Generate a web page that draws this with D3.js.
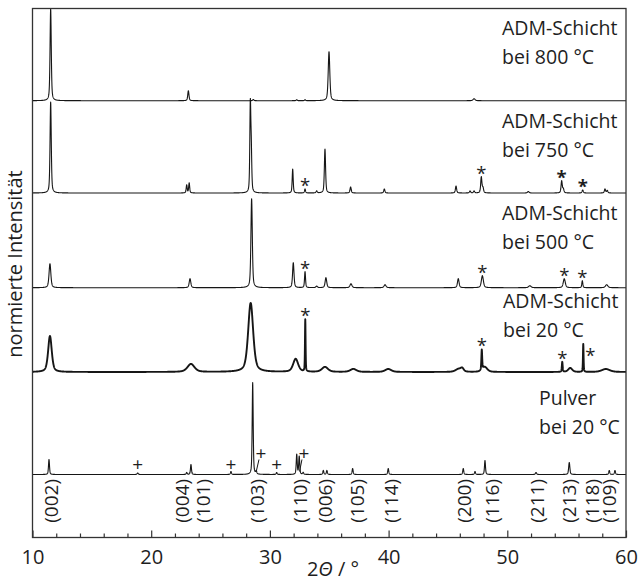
<!DOCTYPE html>
<html>
<head>
<meta charset="utf-8">
<script src="https://cdn.jsdelivr.net/npm/d3@7"></script>
<style>
  body { margin: 0; background: #fff; }
  svg text { font-family: "Open Sans", "Noto Sans", sans-serif; fill: #1e1e1e; }
</style>
</head>
<body>
<div id="chart"></div>
<script>
// peak lists: [2theta, height, half width] (height in px-like units)
const peaks800 = [
    [11.53, 92, 0.06], [23.13, 10, 0.06], [28.6, 1.2, 0.06], [32.26, 1, 0.05],
    [32.96, 1, 0.05], [34.98, 49, 0.08], [47.2, 2, 0.1]
];
const peaks750 = [
    [11.53, 91, 0.06], [22.99, 8, 0.05], [23.2, 10, 0.05], [28.35, 86, 0.05], [28.43, 38, 0.05],
    [31.92, 24, 0.05], [32.96, 4, 0.05], [33.94, 2, 0.06], [34.64, 44, 0.06], [36.8, 6, 0.06],
    [39.64, 4, 0.06], [45.68, 7, 0.06], [46.86, 2, 0.06], [47.2, 2, 0.06], [47.81, 16, 0.06],
    [47.95, 5, 0.06], [51.77, 1.5, 0.08], [54.58, 12, 0.06], [54.72, 4, 0.06], [56.35, 3, 0.06],
    [58.23, 4, 0.06], [58.42, 2.5, 0.06]
];
const peaks500 = [
    [11.47, 24, 0.09], [23.27, 9, 0.08], [28.46, 89, 0.07], [31.97, 25, 0.07], [32.96, 16, 0.05],
    [33.94, 1.5, 0.08], [34.72, 10, 0.08], [36.83, 4, 0.1], [39.7, 3, 0.1], [45.87, 9, 0.08],
    [47.9, 12, 0.1], [51.9, 2, 0.12], [54.8, 9, 0.1], [56.32, 7, 0.05], [58.37, 3, 0.12]
];
const peaksFilm20 = [
    [11.47, 36, 0.18], [23.35, 8, 0.35], [28.38, 69, 0.25], [32.17, 13, 0.25], [32.98, 52, 0.03],
    [34.64, 5, 0.3], [37.03, 3, 0.3], [39.97, 3, 0.3], [45.9, 3, 0.3], [46.2, 3, 0.15],
    [47.85, 20, 0.04], [48.1, 5, 0.25], [54.63, 10, 0.04], [55.3, 4, 0.2], [56.4, 28, 0.03],
    [58.3, 3, 0.4]
];
const peaksPowder = [
    [11.39, 15, 0.05], [18.86, 1.5, 0.06], [22.99, 2, 0.05], [23.35, 10, 0.05], [26.72, 3, 0.05],
    [28.55, 92, 0.05], [28.85, 3, 0.05], [30.57, 2, 0.05], [32.26, 20, 0.05], [32.47, 18, 0.05],
    [32.8, 2, 0.05], [34.5, 4, 0.05], [34.8, 4, 0.05], [36.97, 6, 0.05], [39.97, 6, 0.05],
    [46.29, 6, 0.05], [47.28, 3, 0.05], [48.12, 14, 0.05], [52.42, 2, 0.06], [55.22, 12, 0.06],
    [58.59, 4, 0.05], [59.07, 4, 0.05]
];

const sampleNames = [
    ["ADM-Schicht", "bei 800 °C"],
    ["ADM-Schicht", "bei 750 °C"],
    ["ADM-Schicht", "bei 500 °C"],
    ["ADM-Schicht", "bei 20 °C"],
    ["Pulver", "bei 20 °C"]
];

// marked reflections (*) per spectrum, + for the powder
const stars750 = [32.96, 47.81, 54.58, 56.35];
const stars500 = [32.96, 47.9, 54.8, 56.32];
const starsFilm20 = [32.98, 47.85, 54.63, 56.4];
const plusPowder = [18.86, 26.72, 30.57];
const plusLeaders = [[29.25, 28.85], [32.87, 32.5]];

const hklLabels = ["(002)", "(004)", "(101)", "(103)", "(110)", "(006)", "(105)", "(114)",
    "(200)", "(116)", "(211)", "(213)", "(118)", "(109)"];
const hklPos = [11.6, 22.57, 24.39, 28.88, 32.53, 34.64, 37.31, 40.2, 46.35, 48.69, 52.48,
    55.22, 57.11, 58.59];

const xMajor = [10, 20, 30, 40, 50, 60];
const xMinor = [12, 14, 16, 18, 22, 24, 26, 28, 32, 34, 36, 38, 42, 44, 46, 48, 52, 54, 56, 58];

const W = 639, H = 581;
const margin = { left: 32.5, right: 13, top: 8.5, bottom: 43.5 };

const svg = d3.select("#chart").append("svg")
    .attr("width", W)
    .attr("height", H);

const x = d3.scaleLinear().domain([10, 60]).range([margin.left, W - margin.right]);
const y = d3.scaleLinear().domain([0, 529]).range([H - margin.bottom, margin.top]);

// stacking offsets of each spectrum (same order as sampleNames)
const series = [
    { peaks: peaks800, offset: 436.8, sw: 1.1 },
    { peaks: peaks750, offset: 344.5, sw: 1.1 },
    { peaks: peaks500, offset: 249.8, sw: 1.1 },
    { peaks: peaksFilm20, offset: 165.5, sw: 1.9 },
    { peaks: peaksPowder, offset: 63, sw: 1.1 }
];

function profile(peaks, t) {
    let s = 0;
    for (const [c, h, w] of peaks) {
        const u = (t - c) / w, u2 = u * u;
        if (u2 > 4000) continue;
        s += h * (0.5 / (1 + u2) + 0.5 * Math.exp(-0.6931 * u2));
    }
    return s;
}

const grid = d3.range(10, 60.0001, 0.01);

svg.append("clipPath").attr("id", "plot-clip")
    .append("rect")
    .attr("x", x(10)).attr("y", y(529))
    .attr("width", x(60) - x(10)).attr("height", y(0) - y(529));

const line = d3.line().x(d => x(d[0])).y(d => y(d[1]));

const g = svg.append("g").attr("clip-path", "url(#plot-clip)");

series.forEach(s => {
    const pts = grid.map(t => [t, s.offset + profile(s.peaks, t)]);
    g.append("path")
        .datum(pts)
        .attr("d", line)
        .attr("fill", "none")
        .attr("stroke", "#161616")
        .attr("stroke-width", s.sw)
        .attr("stroke-linejoin", "round");
});

// sample names
const namePos = [[502, 35], [502, 128], [502, 220], [503, 308], [539, 405]];
sampleNames.forEach((lines, i) => {
    lines.forEach((txt, j) => {
        svg.append("text")
            .attr("x", namePos[i][0])
            .attr("y", namePos[i][1] + j * 29)
            .attr("font-size", 19.5)
            .text(txt);
    });
});

// asterisks
function drawStars(list, s, sideIdx, boldIdx) {
    list.forEach((p, i) => {
        const top = y(s.offset + profile(s.peaks, p));
        const side = (i === sideIdx);
        svg.append("text")
            .attr("x", x(p) + (side ? 7 : 0))
            .attr("y", (side ? top + 8 : top - 7) + 10)
            .attr("text-anchor", "middle")
            .attr("font-size", 18.5)
            .attr("font-weight", boldIdx.includes(i) ? "bold" : null)
            .text("*");
    });
}
drawStars(stars750, series[1], -1, [2, 3]);
drawStars(stars500, series[2], -1, []);
drawStars(starsFilm20, series[3], 3, []);

// + markers of the powder pattern
const sp = series[4];
plusPowder.forEach(p => {
    svg.append("text")
        .attr("x", x(p))
        .attr("y", y(sp.offset) - 10 + 6)
        .attr("text-anchor", "middle")
        .attr("font-size", 19)
        .text("+");
});
plusLeaders.forEach(([p, target]) => {
    const cy = y(sp.offset) - 21;
    svg.append("text")
        .attr("x", x(p))
        .attr("y", cy + 6)
        .attr("text-anchor", "middle")
        .attr("font-size", 19)
        .text("+");
    svg.append("line")
        .attr("x1", x(p) - 2).attr("y1", cy + 6)
        .attr("x2", x(target)).attr("y2", y(sp.offset) - 3)
        .attr("stroke", "#161616")
        .attr("stroke-width", 1);
});

// hkl labels
hklLabels.forEach((lab, i) => {
    const px = x(hklPos[i]);
    svg.append("text")
        .attr("transform", `translate(${px},479) rotate(-90)`)
        .attr("text-anchor", "end")
        .attr("dominant-baseline", "central")
        .attr("font-size", 19)
        .text(lab);
});

// axes
const axisMajor = svg.append("g")
    .attr("transform", `translate(0,${y(0)})`)
    .call(d3.axisBottom(x).tickValues(xMajor).tickSizeInner(-7).tickSizeOuter(0).tickPadding(12));
axisMajor.select(".domain").remove();
axisMajor.selectAll("text").attr("font-size", 20).attr("font-family", null);
axisMajor.selectAll("line").attr("stroke", "#333").attr("stroke-width", 1.2);

const axisMinor = svg.append("g")
    .attr("transform", `translate(0,${y(0)})`)
    .call(d3.axisBottom(x).tickValues(xMinor).tickSizeInner(-4).tickSizeOuter(0).tickFormat(""));
axisMinor.select(".domain").remove();
axisMinor.selectAll("line").attr("stroke", "#333").attr("stroke-width", 1.2);

// frame
svg.append("rect")
    .attr("x", x(10)).attr("y", y(529))
    .attr("width", x(60) - x(10)).attr("height", y(0) - y(529))
    .attr("fill", "none")
    .attr("stroke", "#333")
    .attr("stroke-width", 1.3);

// axis titles
const xt = svg.append("text")
    .attr("x", 333)
    .attr("y", 576)
    .attr("text-anchor", "middle")
    .attr("font-size", 20);
xt.append("tspan").text("2");
xt.append("tspan").attr("font-style", "italic").text("Θ");
xt.append("tspan").text(" / °");

svg.append("text")
    .attr("transform", "translate(22,264) rotate(-90)")
    .attr("text-anchor", "middle")
    .attr("font-size", 20)
    .text("normierte Intensität");
</script>
</body>
</html>
